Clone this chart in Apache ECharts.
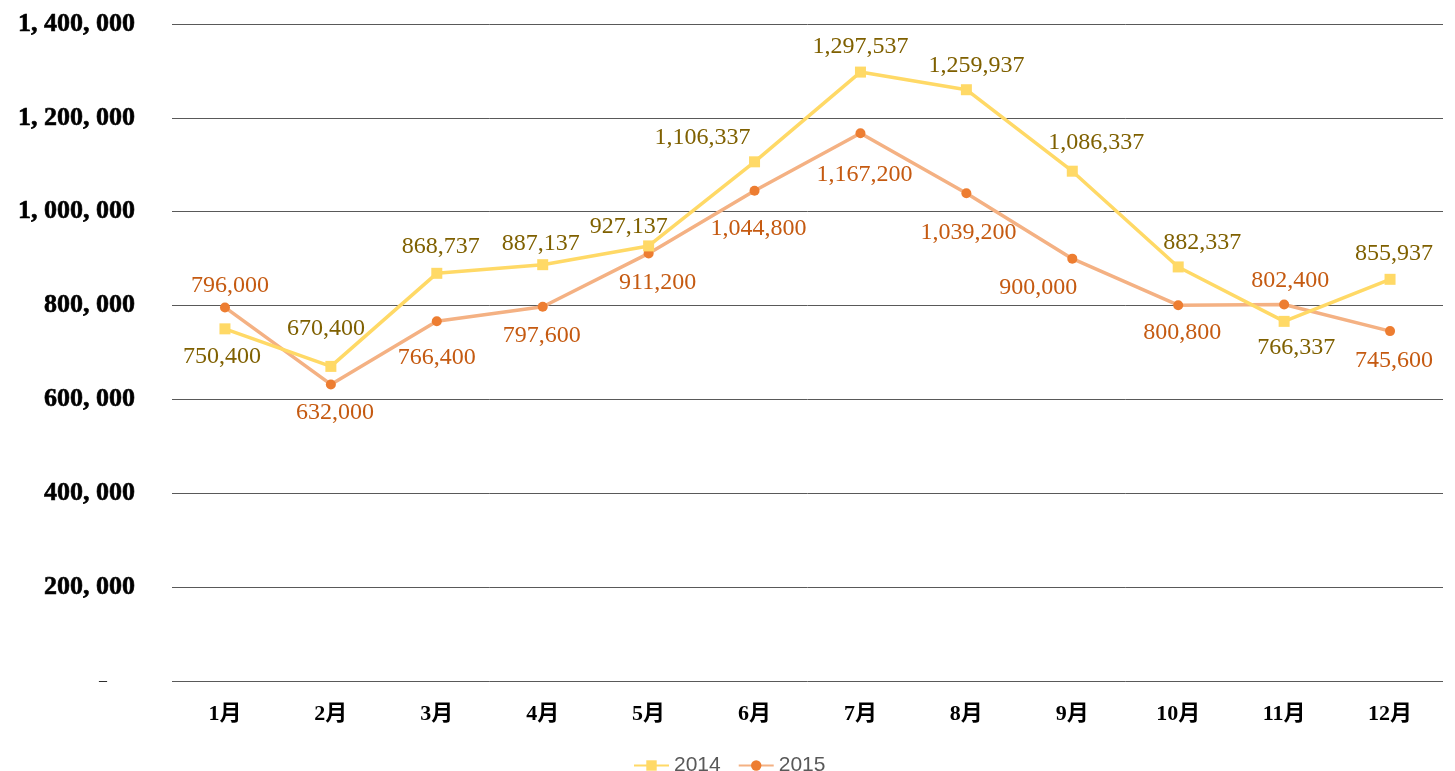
<!DOCTYPE html>
<html>
<head>
    <meta charset="utf-8">
    <title>2014 vs 2015</title>
    <script src="https://cdn.jsdelivr.net/npm/echarts@6/dist/echarts.min.js"></script>
    <style>
        html, body { margin: 0; padding: 0; background: #fff; }
        #chart1 { width: 1455px; height: 771px; }
    </style>
</head>
<body>
<div id="chart1"></div>
<script type="text/javascript">
    // 数据
    var months = ['1月', '2月', '3月', '4月', '5月', '6月', '7月', '8月', '9月', '10月', '11月', '12月'];
    var sales2014 = [750400, 670400, 868737, 887137, 927137, 1106337, 1297537, 1259937, 1086337, 882337, 766337, 855937];
    var sales2015 = [796000, 632000, 766400, 797600, 911200, 1044800, 1167200, 1039200, 900000, 800800, 802400, 745600];
    var yTicks = [0, 200000, 400000, 600000, 800000, 1000000, 1200000, 1400000];

    // 标签偏移 (相对数据点中心)
    var off2014 = [[-3, 28], [-5, -38], [4, -27], [-2, -21], [-20, -19], [-52, -24], [0, -25], [10, -24], [24, -28], [24, -24], [12, 26], [4, -26]];
    var off2015 = [[5, -22], [4, 28], [0, 36], [-1, 29], [9, 29], [4, 38], [4, 41], [2, 39], [-34, 29], [4, 28], [6, -24], [4, 30]];

    function fmt(v) {
        return v.toString().replace(/\B(?=(\d{3})+(?!\d))/g, ',');
    }

    function withLabels(values, offsets) {
        return values.map(function (v, i) {
            return { value: v, label: { offset: offsets[i] } };
        });
    }

    var myChart = echarts.init(document.getElementById('chart1'));

    var labelBase = {
        show: true,
        position: 'inside',
        fontFamily: 'Liberation Serif, Times New Roman, serif',
        fontSize: 24,
        formatter: function (p) { return fmt(p.value); }
    };

    var option = {
        animation: false,
        grid: { left: 172, right: 12, top: 24, bottom: 90, containLabel: false },
        legend: {
            top: 750,
            left: 628,
            itemWidth: 35,
            itemHeight: 13,
            itemGap: 17,
            textStyle: { color: '#595959', fontSize: 21, fontFamily: 'Liberation Sans, Arial, sans-serif' },
            data: ['2014', '2015']
        },
        xAxis: {
            type: 'category',
            data: months,
            boundaryGap: true,
            axisLine: { show: false },
            axisTick: { show: false },
            axisLabel: {
                margin: 22,
                fontSize: 22,
                fontWeight: 'bold',
                color: '#000',
                fontFamily: 'Liberation Serif, Noto Sans CJK SC, serif'
            }
        },
        yAxis: {
            type: 'value',
            min: yTicks[0],
            max: yTicks[yTicks.length - 1],
            interval: 200000,
            axisLine: { show: false },
            axisTick: { show: false },
            splitLine: { lineStyle: { color: '#595959', width: 1 } },
            axisLabel: {
                margin: 37,
                fontSize: 26,
                fontWeight: 'bold',
                color: '#000',
                textBorderColor: '#000',
                textBorderWidth: 0.6,
                fontFamily: 'Liberation Serif, Times New Roman, serif',
                formatter: function (v) {
                    if (v === 0) return '{d|–}';
                    return fmt(v).replace(/,/g, ', ');
                },
                rich: {
                    d: { fontSize: 16, fontWeight: 'normal', color: '#000', textBorderWidth: 0, padding: [0, 28, 0, 0] }
                }
            }
        },
        series: [
            {
                name: '2014',
                type: 'line',
                data: withLabels(sales2014, off2014),
                symbol: 'rect',
                symbolSize: 11,
                lineStyle: { color: '#FFD966', width: 3.5 },
                itemStyle: { color: '#FFD966' },
                label: Object.assign({ color: '#7F6000' }, labelBase),
                z: 3
            },
            {
                name: '2015',
                type: 'line',
                data: withLabels(sales2015, off2015),
                symbol: 'circle',
                symbolSize: 10,
                lineStyle: { color: '#F4B183', width: 3.5 },
                itemStyle: { color: '#ED7D31' },
                label: Object.assign({ color: '#C55A11' }, labelBase),
                z: 2
            }
        ]
    };
    myChart.setOption(option);
</script>
</body>
</html>
